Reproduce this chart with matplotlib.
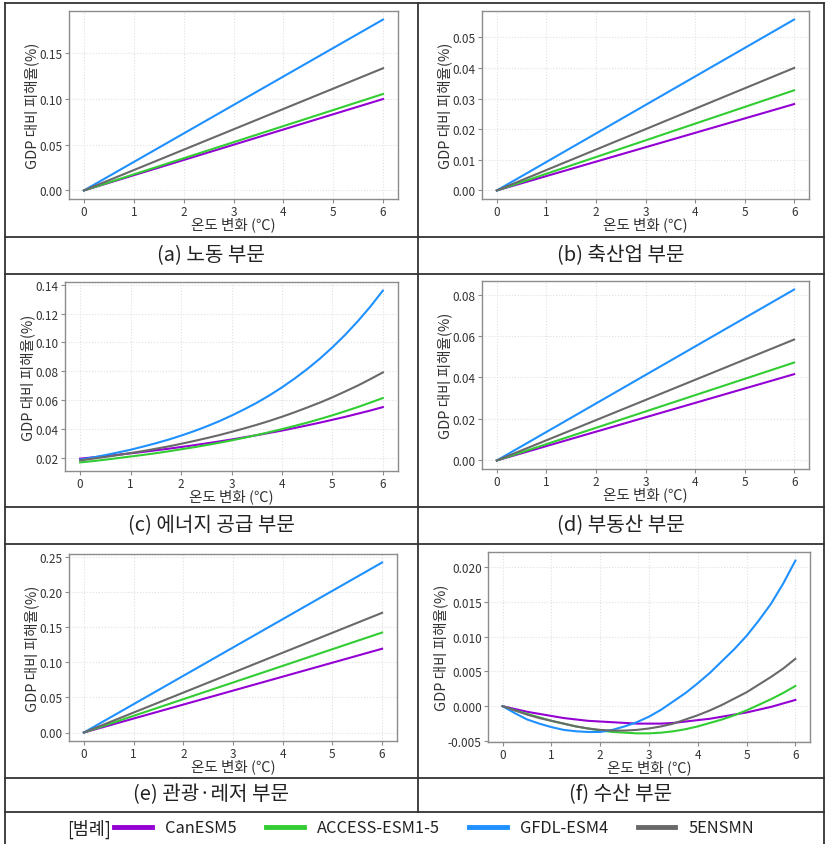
import matplotlib as mpl
mpl.use('Agg')
import matplotlib.pyplot as plt
from matplotlib.lines import Line2D
from matplotlib.ticker import MultipleLocator

plt.rcParams['font.family'] = ['Noto Sans CJK KR', 'DejaVu Sans']
plt.rcParams['axes.unicode_minus'] = False

# models / colours
models = ['CanESM5', 'ACCESS-ESM1-5', 'GFDL-ESM4', '5ENSMN']
colors = ['#9400d3', '#32cd32', '#1e90ff', '#696969']

# x values (temperature change)
temp_lin = [0, 6]
temp_q = [0, 0.25, 0.5, 0.75, 1, 1.25, 1.5, 1.75, 2, 2.25, 2.5, 2.75, 3,
          3.25, 3.5, 3.75, 4, 4.25, 4.5, 4.75, 5, 5.25, 5.5, 5.75, 6]

# (a) labour  -- order follows models
labor = [[0, 0.0995], [0, 0.105], [0, 0.186], [0, 0.133]]
# (b) livestock
livestock = [[0, 0.0282], [0, 0.0327], [0, 0.0558], [0, 0.0400]]
# (c) energy supply
energy = [
    [0.0193, 0.0202, 0.0211, 0.0220, 0.0230, 0.0240, 0.0251, 0.0262, 0.0274, 0.0286, 0.0299, 0.0312, 0.0326,
     0.0341, 0.0356, 0.0372, 0.0388, 0.0406, 0.0424, 0.0443, 0.0463, 0.0483, 0.0505, 0.0527, 0.0551],
    [0.0167, 0.0176, 0.0186, 0.0197, 0.0208, 0.0219, 0.0231, 0.0244, 0.0258, 0.0272, 0.0287, 0.0303, 0.0320,
     0.0338, 0.0357, 0.0377, 0.0398, 0.0420, 0.0443, 0.0468, 0.0494, 0.0522, 0.0551, 0.0582, 0.0614],
    [0.0186, 0.0201, 0.0218, 0.0236, 0.0255, 0.0277, 0.0300, 0.0325, 0.0353, 0.0383, 0.0416, 0.0452, 0.0492,
     0.0535, 0.0581, 0.0632, 0.0688, 0.0749, 0.0815, 0.0887, 0.0966, 0.1052, 0.1146, 0.1248, 0.1360],
    [0.0181, 0.0193, 0.0205, 0.0218, 0.0232, 0.0246, 0.0262, 0.0278, 0.0296, 0.0315, 0.0335, 0.0356, 0.0379,
     0.0403, 0.0428, 0.0455, 0.0484, 0.0515, 0.0548, 0.0582, 0.0619, 0.0659, 0.0700, 0.0745, 0.0792],
]
# (d) real estate
real_estate = [[0, 0.0416], [0, 0.0472], [0, 0.0824], [0, 0.0583]]
# (e) tourism / leisure
tourism = [[0, 0.119], [0, 0.142], [0, 0.2415], [0, 0.170]]
# (f) fisheries
fishery = [
    [0, -0.0004, -0.0008, -0.0011, -0.0014, -0.0017, -0.0019, -0.0021, -0.0022, -0.0023, -0.0024, -0.0025, -0.0025,
     -0.0025, -0.0024, -0.0022, -0.0020, -0.0018, -0.0015, -0.0012, -0.0009, -0.0005, -0.0001, 0.0004, 0.0009],
    [0, -0.0006, -0.0011, -0.0016, -0.0021, -0.0025, -0.0029, -0.0032, -0.0035, -0.0037, -0.0038, -0.0039, -0.0039,
     -0.0038, -0.0036, -0.0033, -0.0029, -0.0024, -0.0019, -0.0013, -0.0006, 0.0002, 0.0010, 0.0019, 0.0029],
    [0, -0.0010, -0.0019, -0.0025, -0.0030, -0.0034, -0.0036, -0.0037, -0.0037, -0.0034, -0.0029, -0.0023, -0.0015,
     -0.0005, 0.0007, 0.0019, 0.0033, 0.0048, 0.0065, 0.0082, 0.0101, 0.0123, 0.0147, 0.0176, 0.0209],
    [0, -0.0006, -0.0012, -0.0017, -0.0021, -0.0025, -0.0029, -0.0032, -0.0034, -0.0035, -0.0035, -0.0034, -0.0032,
     -0.0029, -0.0025, -0.0019, -0.0013, -0.0006, 0.0002, 0.0011, 0.0020, 0.0031, 0.0042, 0.0054, 0.0068],
]

captions = ['(a) 노동 부문', '(b) 축산업 부문', '(c) 에너지 공급 부문',
            '(d) 부동산 부문', '(e) 관광·레저 부문', '(f) 수산 부문']

W, H = 825, 845
fig = plt.figure(figsize=(W / 100, H / 100), dpi=100)

# background axes in pixel coords for the table frame and captions
bg = fig.add_axes([0, 0, 1, 1])
bg.set_xlim(0, W)
bg.set_ylim(H, 0)
bg.axis('off')


def px_axes(left, top, right, bottom):
    return fig.add_axes([left / W, 1 - bottom / H, (right - left) / W, (bottom - top) / H])


def draw_panel(ax, xs, series, step):
    for vals, c in zip(series, colors):
        ax.plot(xs, vals, color=c, lw=1.5)
    ax.yaxis.set_major_locator(MultipleLocator(step))
    ax.xaxis.set_major_locator(MultipleLocator(1))
    ax.grid(True, color='#e0e0e0', linestyle=':', lw=0.8)
    for s in ax.spines.values():
        s.set_color('#8c8c8c')
        s.set_linewidth(1.0)
    ax.tick_params(labelsize=8.5, colors='#8c8c8c', labelcolor='#333333', length=3, pad=1.5)
    ax.set_xlabel('온도 변화 (℃)', fontsize=10.5, color='#333333', labelpad=-1)
    ax.set_ylabel('GDP 대비 피해율(%)', fontsize=10.5, color='#333333', labelpad=0)


panels = [
    ((69, 12, 398, 200), temp_lin, labor, 0.05),
    ((482, 12, 809, 200), temp_lin, livestock, 0.01),
    ((65, 283, 398, 472), temp_q, energy, 0.02),
    ((482, 282, 809, 470), temp_lin, real_estate, 0.02),
    ((69, 555, 397, 742), temp_lin, tourism, 0.05),
    ((488, 553, 810, 743), temp_q, fishery, 0.005),
]
for box, xs, series, step in panels:
    ax = px_axes(*box)
    draw_panel(ax, xs, series, step)

# table frame
line_kw = dict(color='#333333', lw=1.3)
for y in [4, 238, 275, 508, 545, 779, 813]:
    bg.plot([5, 824], [y, y], **line_kw)
bg.plot([5, 5], [4, 845], **line_kw)
bg.plot([824, 824], [4, 845], **line_kw)
bg.plot([418, 418], [4, 813], **line_kw)

# captions
cap_rows = [(238, 275), (508, 545), (779, 813)]
for i, cap in enumerate(captions):
    r, c = divmod(i, 2)
    y0, y1 = cap_rows[r]
    x = 211 if c == 0 else 621
    bg.text(x, (y0 + y1) / 2 - 1, cap, fontsize=14.5, ha='center', va='center', color='#222222')

# legend row
bg.text(111, 829, '[범례]', fontsize=12.5, ha='right', va='center', color='#222222')
handles = [Line2D([0], [0], color=c, lw=3.5) for c in colors]
fig.legend(handles, models, loc='center left', bbox_to_anchor=(114 / W, 1 - 829 / H),
           ncol=4, frameon=False, fontsize=11.8, handlelength=2.3, handletextpad=0.8,
           columnspacing=1.8, borderpad=0, borderaxespad=0, labelcolor='#222222')

fig.savefig('out.png', dpi=100)
